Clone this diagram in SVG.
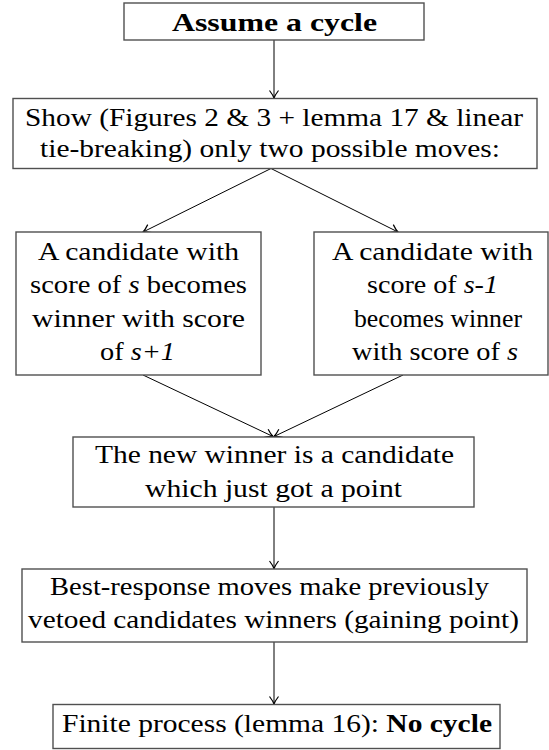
<svg xmlns="http://www.w3.org/2000/svg" width="549" height="750" viewBox="0 0 549 750">
  <style>
    .box { fill: #ffffff; stroke: #505050; stroke-width: 1.4; }
    .t { font-family: 'Liberation Serif', 'DejaVu Serif', serif; font-size: 26px; fill: #000; }
    .b { font-weight: bold; }
    .i { font-style: italic; }
    .con { stroke: #000; stroke-width: 1; fill: none; marker-end: url(#arr); }
  </style>
  <defs>
    <marker id="arr" viewBox="-9 -6 11 12" refX="0" refY="0" markerWidth="11" markerHeight="12" orient="auto" markerUnits="userSpaceOnUse">
      <path d="M-7.5,-4.5 C-4.5,-2.2 -1.8,-0.6 0,0 C-1.8,0.6 -4.5,2.2 -7.5,4.5" fill="none" stroke="#000" stroke-width="1.2"/>
    </marker>
  </defs>
  <rect width="549" height="750" fill="#ffffff"/>

  <g id="connectors">
    <line class="con" x1="274" y1="40" x2="274" y2="98"/>
    <line class="con" x1="271" y1="168.5" x2="143" y2="232"/>
    <line class="con" x1="271" y1="168.5" x2="398" y2="232"/>
    <line class="con" x1="143" y1="375" x2="273" y2="436.5"/>
    <line class="con" x1="403" y1="375" x2="274" y2="436.5"/>
    <line class="con" x1="274" y1="507" x2="274" y2="568.5"/>
    <line class="con" x1="274" y1="642" x2="274" y2="704"/>
  </g>

  <g id="assume">
    <rect class="box" x="124" y="3" width="300" height="37"/>
    <text class="t b" x="172" y="31" textLength="205" lengthAdjust="spacingAndGlyphs">Assume a cycle</text>
  </g>

  <g id="show">
    <rect class="box" x="13" y="98.5" width="524" height="70"/>
    <text class="t" x="25" y="126" textLength="498" lengthAdjust="spacingAndGlyphs">Show (Figures 2 &amp; 3 + lemma 17 &amp; linear</text>
    <text class="t" x="40" y="157" textLength="460" lengthAdjust="spacingAndGlyphs">tie-breaking) only two possible moves:</text>
  </g>

  <g id="move-left">
    <rect class="box" x="16" y="232" width="245" height="143"/>
    <text class="t" x="38" y="260" textLength="201" lengthAdjust="spacingAndGlyphs">A candidate with</text>
    <text class="t" x="30" y="293" textLength="217" lengthAdjust="spacingAndGlyphs">score of <tspan class="i">s</tspan> becomes</text>
    <text class="t" x="32" y="327" textLength="213" lengthAdjust="spacingAndGlyphs">winner with score</text>
    <text class="t" x="100" y="360" textLength="75" lengthAdjust="spacingAndGlyphs">of <tspan class="i">s+1</tspan></text>
  </g>

  <g id="move-right">
    <rect class="box" x="314" y="232" width="234" height="143"/>
    <text class="t" x="332" y="260" textLength="201" lengthAdjust="spacingAndGlyphs">A candidate with</text>
    <text class="t" x="367" y="293" textLength="131" lengthAdjust="spacingAndGlyphs">score of <tspan class="i">s-1</tspan></text>
    <text class="t" x="354" y="327" textLength="168" lengthAdjust="spacingAndGlyphs">becomes winner</text>
    <text class="t" x="352" y="360" textLength="166" lengthAdjust="spacingAndGlyphs">with score of <tspan class="i">s</tspan></text>
  </g>

  <g id="new-winner">
    <rect class="box" x="73" y="437" width="401" height="70"/>
    <text class="t" x="95" y="463" textLength="359" lengthAdjust="spacingAndGlyphs">The new winner is a candidate</text>
    <text class="t" x="145" y="497" textLength="257" lengthAdjust="spacingAndGlyphs">which just got a point</text>
  </g>

  <g id="best-response">
    <rect class="box" x="22" y="569" width="505" height="73"/>
    <text class="t" x="50" y="595" textLength="439" lengthAdjust="spacingAndGlyphs">Best-response moves make previously</text>
    <text class="t" x="28" y="627.5" textLength="491" lengthAdjust="spacingAndGlyphs">vetoed candidates winners (gaining point)</text>
  </g>

  <g id="finite">
    <rect class="box" x="53" y="704.5" width="447" height="44"/>
    <text class="t" x="62" y="732" textLength="430" lengthAdjust="spacingAndGlyphs">Finite process (lemma 16): <tspan class="b">No cycle</tspan></text>
  </g>
</svg>
